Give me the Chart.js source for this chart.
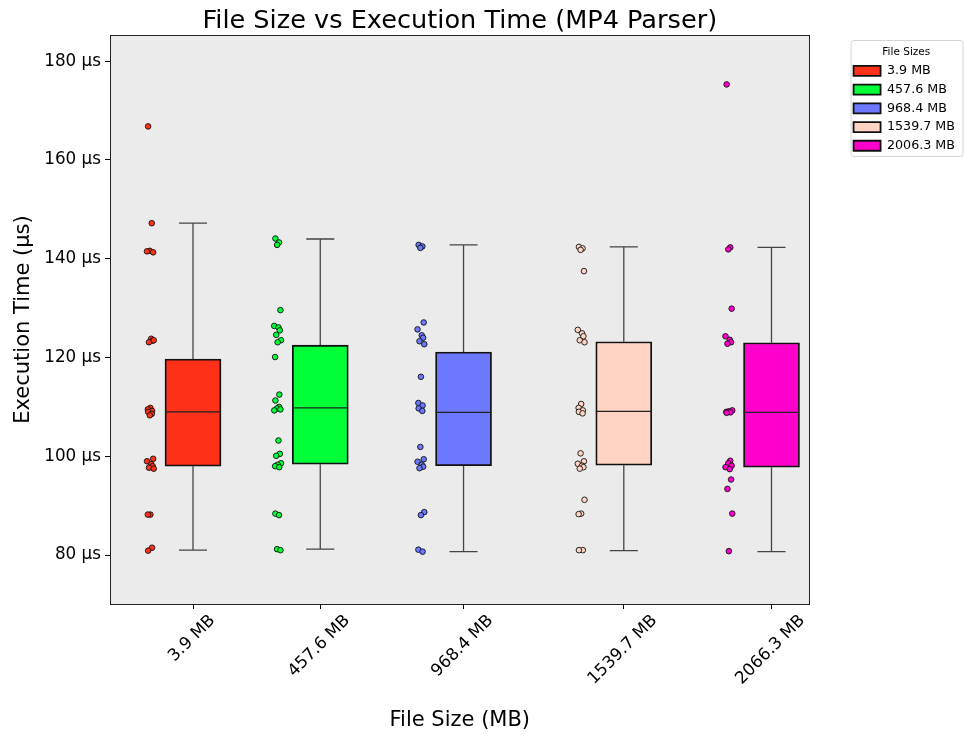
<!DOCTYPE html>
<html>
<head>
<meta charset="utf-8">
<script src="https://cdn.jsdelivr.net/npm/chart.js@4.4.0/dist/chart.umd.min.js"></script>
<style>
  body { margin: 0; background: #fff; }
  #wrap { width: 965px; height: 734px; }
</style>
</head>
<body>
<div id="wrap"><canvas id="boxChart" width="965" height="734"></canvas></div>
<script>
// File sizes (x positions, MB) and labels
var fileSizes = [3.9, 457.6, 968.4, 1539.7, 2066.3];
var tickLabels = ['3.9 MB', '457.6 MB', '968.4 MB', '1539.7 MB', '2066.3 MB'];
var legendLabels = ['3.9 MB', '457.6 MB', '968.4 MB', '1539.7 MB', '2006.3 MB'];
var yTicks = [80, 100, 120, 140, 160, 180];

// Box plot stats (µs)
var whiskerLow = [81.0, 81.2, 80.7, 80.9, 80.7];
var q1 = [98.0, 98.4, 98.1, 98.2, 97.8];
var median = [109.0, 109.8, 108.9, 109.1, 108.9];
var q3 = [119.7, 122.5, 121.1, 123.2, 123.0];
var whiskerHigh = [147.2, 144.0, 142.8, 142.4, 142.3];

// Individual runs (µs)
var times3_9 = [166.8, 147.2, 141.6, 141.3, 141.5, 123.8, 123.4, 123.1, 123.5, 109.8, 109.5, 109.2, 109.0, 108.6, 108.3,
  99.5, 99.0, 98.4, 98.0, 97.7, 97.5, 88.2, 88.2, 81.5, 80.9];
var times457_6 = [144.1, 143.3, 142.8, 129.6, 126.4, 126.1, 125.5, 124.6, 123.5, 123.1, 120.1, 112.5, 111.3, 110.0, 109.7,
  109.5, 109.3, 103.2, 100.5, 100.1, 98.6, 98.3, 98.0, 97.8, 88.4, 88.1, 81.2, 81.0];
var times968_4 = [142.8, 142.5, 142.2, 127.1, 125.7, 124.5, 124.0, 123.3, 122.7, 116.1, 110.8, 110.3, 109.7, 109.2, 101.9,
  99.4, 98.9, 98.3, 97.9, 97.6, 88.7, 88.1, 81.1, 80.7];
var times1539_7 = [142.4, 142.1, 141.8, 137.5, 125.6, 124.9, 124.3, 123.5, 123.1, 110.6, 109.8, 109.3, 109.0, 108.7, 100.6,
  99.0, 98.5, 98.1, 97.8, 97.5, 91.2, 88.4, 88.3, 81.0, 81.0];
var times2066_3 = [175.3, 142.3, 141.9, 129.9, 124.3, 123.6, 123.1, 122.8, 109.3, 109.1, 109.0, 108.9, 108.8, 99.1, 98.6,
  98.1, 97.8, 97.4, 95.3, 93.4, 88.4, 80.8];
var runTimes = [times3_9, times457_6, times968_4, times1539_7, times2066_3];

var colors = ['#ff3118', '#00ff37', '#6b78ff', '#ffd4c4', '#ff00cc'];

// strip offset left of each box and a fixed jitter pattern (MB)
var pointOffset = -152;
var jitter = [-8, 5, -2, 10, -12, 3, 8, -5, 12, 0, -9, 6];
var boxHalf = 100, capHalf = 50;

Chart.defaults.font.family = '"DejaVu Sans", sans-serif';
Chart.defaults.color = '#000';

var datasets = [];
fileSizes.forEach(function (s, i) {
  datasets.push({
    type: 'bar',
    label: legendLabels[i],
    data: [{ x: s, y: [q1[i], q3[i]] }],
    backgroundColor: colors[i],
    borderColor: '#111',
    borderWidth: 1.8,
    borderSkipped: false,
    barThickness: 56,
    grouped: false,
    order: 2
  });
});
fileSizes.forEach(function (s, i) {
  datasets.push({
    type: 'line',
    label: 'whiskers',
    data: [
      { x: s, y: whiskerLow[i] }, { x: s, y: q1[i] }, { x: s, y: null },
      { x: s, y: q3[i] }, { x: s, y: whiskerHigh[i] }, { x: s, y: null },
      { x: s - capHalf, y: whiskerLow[i] }, { x: s + capHalf, y: whiskerLow[i] }, { x: s, y: null },
      { x: s - capHalf, y: whiskerHigh[i] }, { x: s + capHalf, y: whiskerHigh[i] }
    ],
    borderColor: '#444',
    borderWidth: 1.3,
    pointRadius: 0,
    spanGaps: false,
    order: 3
  });
  datasets.push({
    type: 'line',
    label: 'median',
    data: [{ x: s - boxHalf, y: median[i] }, { x: s + boxHalf, y: median[i] }],
    borderColor: '#222',
    borderWidth: 1.2,
    pointRadius: 0,
    order: 1
  });
  datasets.push({
    type: 'scatter',
    label: 'runs',
    data: runTimes[i].map(function (t, k) {
      return { x: s + pointOffset + jitter[k % jitter.length], y: t };
    }),
    backgroundColor: colors[i],
    borderColor: '#111',
    borderWidth: 0.9,
    pointRadius: 2.8,
    order: 0
  });
});

var framePlugin = {
  id: 'frame',
  beforeDraw: function (chart) {
    var ctx = chart.ctx, a = chart.chartArea, lg = chart.legend;
    ctx.save();
    ctx.fillStyle = '#fff';
    ctx.fillRect(0, 0, chart.width, chart.height);
    ctx.fillStyle = '#ebebeb';
    ctx.fillRect(a.left, a.top, a.right - a.left, a.bottom - a.top);
    ctx.beginPath();
    ctx.roundRect(lg.left + 3.5, 40.5, lg.width - 5.5, 116, 3);
    ctx.fillStyle = 'rgba(255,255,255,0.85)';
    ctx.fill();
    ctx.strokeStyle = '#d4d4d4';
    ctx.lineWidth = 1;
    ctx.stroke();
    ctx.restore();
  },
  afterDraw: function (chart) {
    // x labels rotated 45deg and centred under the tick
    var sc = chart.scales.x, ctx = chart.ctx;
    ctx.save();
    ctx.font = '16.8px "DejaVu Sans"';
    ctx.fillStyle = '#000';
    ctx.textAlign = 'center';
    ctx.textBaseline = 'middle';
    sc.ticks.forEach(function (t, i) {
      var label = tickLabels[i];
      var half = (ctx.measureText(label).width + 19.6) * Math.SQRT1_2 / 2;
      ctx.save();
      ctx.translate(sc.getPixelForValue(t.value) - 1, sc.top + 7 + half);
      ctx.rotate(-Math.PI / 4);
      ctx.fillText(label, 0, 0);
      ctx.restore();
    });
    ctx.restore();
  }
};

var ctx = document.getElementById('boxChart').getContext('2d');
var chart = new Chart(ctx, {
  type: 'bar',
  data: { datasets: datasets },
  plugins: [framePlugin],
  options: {
    responsive: false,
    animation: false,
    layout: { padding: 0 },
    scales: {
      x: {
        type: 'linear',
        position: 'bottom',
        min: -292,
        max: 2202,
        offset: false,
        afterBuildTicks: function (s) { s.ticks = fileSizes.map(function (v) { return { value: v }; }); },
        afterFit: function (s) { s.height = 130; },
        ticks: { display: false },
        grid: { offset: false, drawOnChartArea: false, tickLength: 5, color: '#000' },
        border: { color: '#222' },
        title: { display: true, text: 'File Size (MB)', font: { size: 21 }, padding: { top: 0, bottom: 1 } }
      },
      y: {
        type: 'linear',
        min: 70.1,
        max: 185.3,
        afterBuildTicks: function (s) { s.ticks = yTicks.map(function (v) { return { value: v }; }); },
        afterFit: function (s) { s.width = 110; },
        ticks: { callback: function (v) { return v + ' µs'; }, font: { size: 16.8 }, padding: 4 },
        grid: { drawOnChartArea: false, tickLength: 5, color: '#000' },
        border: { color: '#222' },
        title: { display: true, text: 'Execution Time (µs)', font: { size: 21 }, padding: { top: 11, bottom: 0 } }
      },
      top: {
        type: 'linear',
        axis: 'x',
        position: 'top',
        offset: false,
        ticks: { display: false },
        grid: { display: false },
        border: { color: '#222' },
        afterFit: function (s) { s.height = 35; },
        title: { display: true, text: 'File Size vs Execution Time (MP4 Parser)', font: { size: 25.6 }, padding: { top: 6, bottom: 0 } }
      },
      pad: {
        type: 'linear',
        axis: 'y',
        position: 'right',
        ticks: { display: false },
        grid: { display: false },
        border: { color: '#222' },
        afterFit: function (s) { s.width = 38; }
      }
    },
    plugins: {
      tooltip: { enabled: false },
      legend: {
        position: 'right',
        align: 'start',
        labels: {
          filter: function (item) { return item.datasetIndex < 5; },
          boxWidth: 27,
          boxHeight: 10,
          padding: 6,
          font: { size: 12.7 }
        },
        title: { display: true, text: 'File Sizes', font: { size: 10.5, lineHeight: 1 }, padding: { top: 47.5, bottom: 0.6 } }
      }
    }
  }
});
</script>
</body>
</html>
